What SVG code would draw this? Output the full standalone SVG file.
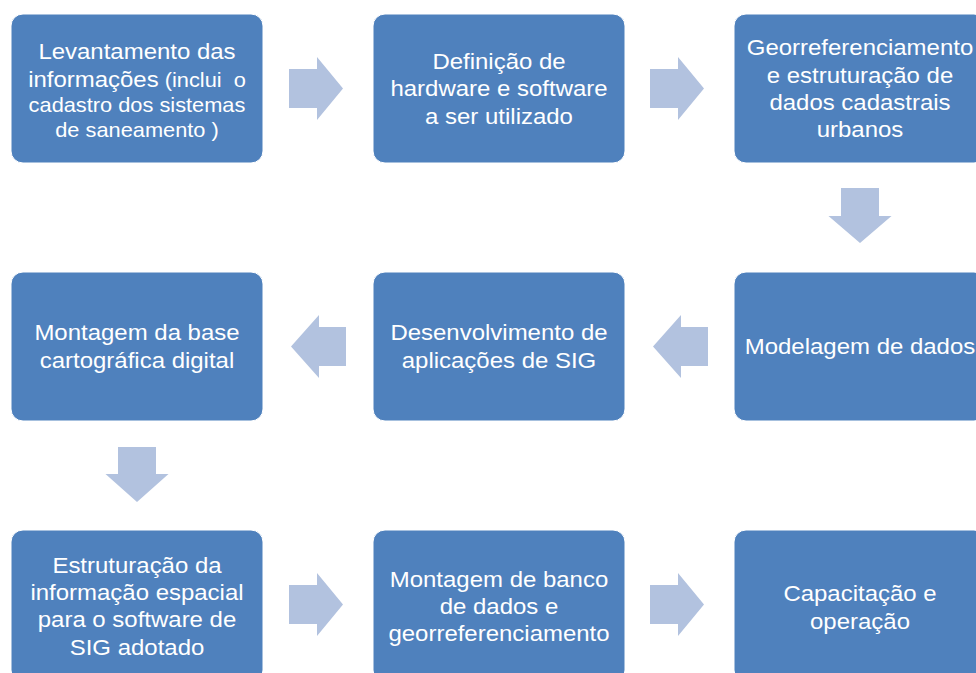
<svg xmlns="http://www.w3.org/2000/svg" width="976" height="673" viewBox="0 0 976 673">
<defs>
<style>
.box{fill:#4F81BD;stroke:#FFFFFF;stroke-width:1}
.arr{fill:#B2C2DF}
text{font-family:"Liberation Sans",Arial,sans-serif;font-size:22px;fill:#FFFFFF;text-anchor:middle;white-space:pre}
.sm{font-size:20px}
</style>
</defs>
<rect width="976" height="673" fill="#FFFFFF"/>
<g id="connectors">
<polygon class="arr" points="289,69 317,69 317,57 343,88.5 317,120 317,108 289,108"/>
<polygon class="arr" points="650,69 678,69 678,57 704,88.5 678,120 678,108 650,108"/>
<polygon class="arr" points="841,188 879,188 879,216 891.5,216 860,243 828.5,216 841,216"/>
<polygon class="arr" points="708,327 708,366 681,366 681,378 653,346.5 681,315 681,327"/>
<polygon class="arr" points="346,327 346,366 319,366 319,378 291,346.5 319,315 319,327"/>
<polygon class="arr" points="118,447 156,447 156,474 168.5,474 137,502 105.5,474 118,474"/>
<polygon class="arr" points="289,585 317,585 317,573 343,604.5 317,636 317,624 289,624"/>
<polygon class="arr" points="650,585 678,585 678,573 704,604.5 678,636 678,624 650,624"/>
</g>
<g id="n1">
<rect class="box" x="11" y="14" width="252" height="149" rx="12"/>
<g transform="translate(137 0) scale(1.09 1)">
<text x="0" y="59">Levantamento das</text>
<text x="0" y="87">informações<tspan class="sm"> (inclui  o</tspan></text>
<text x="0" y="112.5" class="sm">cadastro dos sistemas</text>
<text x="0" y="137" class="sm">de saneamento )</text>
</g>
</g>
<g id="n2">
<rect class="box" x="373" y="14" width="252" height="149" rx="12"/>
<g transform="translate(499 0) scale(1.09 1)">
<text x="0" y="69">Definição de</text>
<text x="0" y="96.5">hardware e software</text>
<text x="0" y="124">a ser utilizado</text>
</g>
</g>
<g id="n3">
<rect class="box" x="734" y="14" width="252" height="149" rx="12"/>
<g transform="translate(860 0) scale(1.09 1)">
<text x="0" y="55.5">Georreferenciamento</text>
<text x="0" y="83">e estruturação de</text>
<text x="0" y="110">dados cadastrais</text>
<text x="0" y="137">urbanos</text>
</g>
</g>
<g id="n4">
<rect class="box" x="734" y="272" width="252" height="149" rx="12"/>
<g transform="translate(860 0) scale(1.09 1)">
<text x="0" y="354.5">Modelagem de dados</text>
</g>
</g>
<g id="n5">
<rect class="box" x="373" y="272" width="252" height="149" rx="12"/>
<g transform="translate(499 0) scale(1.09 1)">
<text x="0" y="340.5">Desenvolvimento de</text>
<text x="0" y="368">aplicações de SIG</text>
</g>
</g>
<g id="n6">
<rect class="box" x="11" y="272" width="252" height="149" rx="12"/>
<g transform="translate(137 0) scale(1.09 1)">
<text x="0" y="340.5">Montagem da base</text>
<text x="0" y="368">cartográfica digital</text>
</g>
</g>
<g id="n7">
<rect class="box" x="11" y="530" width="252" height="152" rx="12"/>
<g transform="translate(137 0) scale(1.09 1)">
<text x="0" y="573">Estruturação da</text>
<text x="0" y="600">informação espacial</text>
<text x="0" y="627">para o software de</text>
<text x="0" y="655">SIG adotado</text>
</g>
</g>
<g id="n8">
<rect class="box" x="373" y="530" width="252" height="152" rx="12"/>
<g transform="translate(499 0) scale(1.09 1)">
<text x="0" y="587">Montagem de banco</text>
<text x="0" y="614">de dados e</text>
<text x="0" y="641">georreferenciamento</text>
</g>
</g>
<g id="n9">
<rect class="box" x="734" y="530" width="252" height="152" rx="12"/>
<g transform="translate(860 0) scale(1.09 1)">
<text x="0" y="601">Capacitação e</text>
<text x="0" y="629">operação</text>
</g>
</g>
</svg>
